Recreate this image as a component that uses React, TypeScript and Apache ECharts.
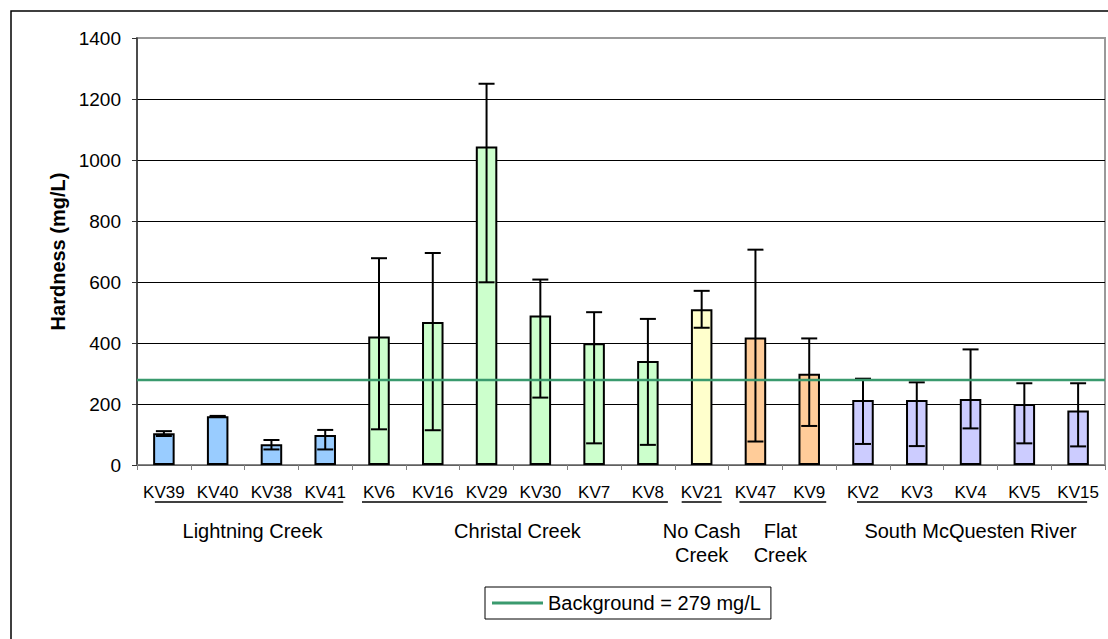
import React, { useEffect, useRef } from 'react';
import * as echarts from 'echarts';

const categories = ['KV39', 'KV40', 'KV38', 'KV41', 'KV6', 'KV16', 'KV29', 'KV30', 'KV7', 'KV8', 'KV21', 'KV47', 'KV9', 'KV2', 'KV3', 'KV4', 'KV5', 'KV15'];
const hardness = [104, 160, 68, 98, 421, 469, 1044, 490, 399, 341, 511, 418, 299, 213, 213, 216, 200, 179];
const errorHigh = [111, 161, 82, 115, 678, 695, 1250, 608, 501, 479, 571, 706, 415, 283, 271, 379, 268, 268];
const errorLow = [95, 159, 51, 51, 117, 114, 599, 221, 71, 66, 450, 77, 128, 69, 62, 120, 71, 61];
const groupNames = ['Lightning Creek', 'Christal Creek', 'No Cash\nCreek', 'Flat\nCreek', 'South McQuesten River'];
const groupStart = [0, 4, 10, 11, 13];
const groupEnd = [3, 9, 10, 12, 17];
const groupColors = ['#99CCFF', '#CCFFCC', '#FFFFCC', '#FFCC99', '#CCCCFF'];
const backgroundValue = 279;
const backgroundName = 'Background = 279 mg/L';
const yMin = 0;
const yMax = 1400;
const yInterval = 200;

// layout-only offsets for the group underlines (px from first / last bar centre)
const underlineLeft = [-9, -17, -20, -16, -6];
const underlineRight = [18, 20, 20, 17, 9];
// layout-only horizontal nudges for group labels
const labelShift = [8, 4, 0, -2, 0];

const FONT = '"Liberation Sans", Arial, sans-serif';

function groupOf(i: number): number {
  for (let g = 0; g < groupStart.length; g++) {
    if (i >= groupStart[g] && i <= groupEnd[g]) return g;
  }
  return 0;
}

export default function App() {
  const ref = useRef<HTMLDivElement>(null);
  useEffect(() => {
    if (!ref.current) return;
    const chart = echarts.init(ref.current, null, { renderer: 'svg' });
    const option: any = {
      animation: false,
      backgroundColor: '#fff',
      grid: { left: 137, top: 38, right: 3, bottom: 174, show: true, borderColor: '#999', borderWidth: 2, backgroundColor: 'transparent' },
      legend: {
        left: 485, top: 587,
        data: [{ name: backgroundName, icon: 'rect' }],
        borderColor: '#000', borderWidth: 1,
        padding: [6, 10, 6, 7],
        itemWidth: 51, itemHeight: 3, itemGap: 5,
        textStyle: { fontSize: 20, color: '#000', fontFamily: FONT },
      },
      xAxis: [
        {
          type: 'category', data: categories,
          axisLine: { lineStyle: { color: '#808080', width: 1.5 } },
          axisTick: { show: true, length: 5, lineStyle: { color: '#808080' } },
          axisLabel: { color: '#000', fontSize: 17, fontFamily: FONT, margin: 19, interval: 0 },
          splitLine: { show: false },
        },
        { type: 'category', data: categories, boundaryGap: false, show: false },
      ],
      yAxis: {
        type: 'value', min: yMin, max: yMax, interval: yInterval,
        name: 'Hardness (mg/L)', nameLocation: 'middle', nameGap: 68,
        nameTextStyle: { fontSize: 20, fontWeight: 'bold', color: '#000', fontFamily: FONT },
        axisLine: { show: true, lineStyle: { color: '#333', width: 1.5 } },
        axisTick: { show: true, length: 5, lineStyle: { color: '#333' } },
        axisLabel: { color: '#000', fontSize: 19, fontFamily: FONT, margin: 16, formatter: (v: number) => String(v) },
        splitLine: { show: true, showMaxLine: false, lineStyle: { color: '#000', width: 1 } },
      },
      series: [
        {
          type: 'bar', name: 'Hardness', barWidth: '40%',
          data: hardness.map((v, i) => ({ value: v, itemStyle: { color: groupColors[groupOf(i)] } })),
          itemStyle: { borderColor: '#000', borderWidth: 2 },
          z: 2,
        },
        {
          type: 'custom', name: 'Error',
          data: categories.map((c, i) => [i, errorHigh[i], errorLow[i]]),
          encode: { x: 0, y: [1, 2] },
          z: 5,
          renderItem: (params: any, api: any) => {
            const x = api.value(0);
            const hi = api.coord([x, api.value(1)]);
            const lo = api.coord([x, api.value(2)]);
            const h = 8;
            const st = { stroke: '#000', lineWidth: 2 };
            return {
              type: 'group',
              children: [
                { type: 'line', shape: { x1: hi[0], y1: hi[1], x2: lo[0], y2: lo[1] }, style: st },
                { type: 'line', shape: { x1: hi[0] - h, y1: hi[1], x2: hi[0] + h, y2: hi[1] }, style: st },
                { type: 'line', shape: { x1: lo[0] - h, y1: lo[1], x2: lo[0] + h, y2: lo[1] }, style: st },
              ],
            };
          },
        },
        {
          type: 'line', name: backgroundName, xAxisIndex: 1,
          data: categories.map(() => backgroundValue),
          symbol: 'none',
          lineStyle: { color: '#3A9A6E', width: 2.5 },
          itemStyle: { color: '#3A9A6E' },
          z: 10,
        },
      ],
      graphic: [],
    };
    chart.setOption(option);

    const graphics: any[] = [
      { type: 'rect', shape: { x: 11, y: 11, width: 1200, height: 1000 }, style: { fill: 'none', stroke: '#000', lineWidth: 1.5 }, silent: true, z: -1 },
    ];
    groupNames.forEach((name, g) => {
      const x0 = chart.convertToPixel({ xAxisIndex: 0 }, groupStart[g]) as number;
      const x1 = chart.convertToPixel({ xAxisIndex: 0 }, groupEnd[g]) as number;
      graphics.push({
        type: 'line',
        shape: { x1: x0 + underlineLeft[g], y1: 502, x2: x1 + underlineRight[g], y2: 502 },
        style: { stroke: '#000', lineWidth: 1.5 },
      });
      graphics.push({
        type: 'text', x: (x0 + x1) / 2 + labelShift[g], y: 519,
        style: { text: name, fill: '#000', font: `20px ${FONT}`, textAlign: 'center', textVerticalAlign: 'top', lineHeight: 24 },
      });
    });
    chart.setOption({ graphic: graphics });

    return () => chart.dispose();
  }, []);
  return <div ref={ref} style={{ position: 'absolute', left: 0, top: 0, width: 1108, height: 639 }} />;
}
